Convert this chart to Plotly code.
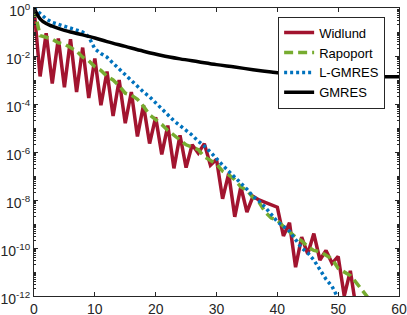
import plotly.graph_objects as go

# Widlund (log10 of residual), iterations 0..53
widlund_it = list(range(0, 54))
widlund_exp = [0, -2.85, -1.05, -3.15, -1.27, -3.3, -1.3, -3.5, -1.65, -3.75,
               -2.1, -4.05, -2.65, -4.5, -3.0, -4.8, -3.5, -5.35, -4.05, -5.65,
               -4.55, -6.1, -4.9, -6.68, -5.3, -6.65, -5.7, -6.05, -5.65, -6.55,
               -6.3, -7.95, -6.9, -8.7, -7.45, -8.5, -7.85, -8.0, -8.1, -8.2,
               -8.3, -9.5, -8.95, -10.8, -9.55, -10.25, -9.4, -10.5, -10.1, -10.64,
               -10.35, -12.0, -10.95, -12.6]

# Rapoport, iterations 0..55
rapoport_it = list(range(0, 56))
rapoport_exp = [0, -1.15, -1.22, -1.3, -1.45, -1.5, -1.65, -1.8, -2.05, -2.2,
                -2.45, -2.6, -2.85, -3.0, -3.25, -3.55, -3.63, -3.8, -4.1, -4.45,
                -4.65, -4.85, -5.1, -5.3, -5.5, -5.7, -5.8, -5.9, -6.2, -6.35,
                -6.5, -6.8, -6.95, -7.15, -7.45, -7.6, -7.9, -8.1, -8.5, -8.75,
                -8.85, -9.1, -9.35, -9.55, -9.7, -9.95, -10.1, -10.15, -10.3, -10.45,
                -10.85, -11.0, -11.15, -11.45, -11.75, -12.1]

# L-GMRES, iterations 0..50
lgmres_it = list(range(0, 51))
lgmres_exp = [0, -0.25, -0.45, -0.6, -0.68, -0.73, -0.82, -0.92, -1.0, -1.2,
              -1.7, -1.9, -2.05, -2.3, -2.55, -2.75, -3.05, -3.3, -3.5, -3.7,
              -3.95, -4.25, -4.5, -4.7, -4.9, -5.08, -5.3, -5.55, -5.75, -6.0,
              -6.3, -6.55, -6.8, -7.05, -7.25, -7.55, -7.85, -8.05, -8.3, -8.6,
              -8.9, -9.1, -9.3, -9.65, -10.0, -10.2, -10.5, -10.9, -11.3, -11.6,
              -12.1]

# GMRES
gmres_it = [0, 1, 2, 3, 4, 5, 6, 8, 10, 12, 15, 18, 21, 24, 27, 30, 33, 36,
            39, 42, 45, 48, 51, 54, 57, 60]
gmres_exp = [0, -0.45, -0.65, -0.76, -0.85, -0.93, -1.0, -1.12, -1.25, -1.4,
             -1.6, -1.8, -1.98, -2.12, -2.24, -2.36, -2.46, -2.57, -2.67, -2.76,
             -2.81, -2.84, -2.85, -2.86, -2.86, -2.86]

y_tick_exps = [0, -2, -4, -6, -8, -10, -12]
x_ticks = [0, 10, 20, 30, 40, 50, 60]


def vals(e):
    return [10 ** v for v in e]


fig = go.Figure()
fig.add_trace(go.Scatter(x=widlund_it, y=vals(widlund_exp), mode="lines", name="Widlund",
                         line=dict(color="#A2142F", width=3.5)))
fig.add_trace(go.Scatter(x=rapoport_it, y=vals(rapoport_exp), mode="lines", name="Rapoport",
                         line=dict(color="#77AC30", width=3.5, dash="9px,5px")))
fig.add_trace(go.Scatter(x=lgmres_it, y=vals(lgmres_exp), mode="lines", name="L-GMRES",
                         line=dict(color="#0072BD", width=3.5, dash="3px,3px")))
fig.add_trace(go.Scatter(x=gmres_it, y=vals(gmres_exp), mode="lines", name="GMRES",
                         line=dict(color="#000000", width=3.5, shape="spline")))

minor_vals = []
for k in range(-12, 0):
    for m in range(2, 10):
        minor_vals.append(m * 10 ** k)
    if k % 2 != 0:
        minor_vals.append(10 ** k)

axcol = "#262626"
fig.update_layout(
    width=407, height=315,
    margin=dict(l=34, r=8, t=8, b=19),
    paper_bgcolor="white", plot_bgcolor="white",
    font=dict(family="Liberation Sans, Arial, sans-serif", size=13, color=axcol),
    showlegend=True,
    legend=dict(x=0.962, y=0.97, xanchor="right", yanchor="top",
                bgcolor="white", bordercolor=axcol, borderwidth=1,
                font=dict(size=13, color="#000000"), tracegroupgap=0,
                itemwidth=30),
)
fig.update_xaxes(range=[0, 60], tickvals=x_ticks, ticks="inside", ticklen=4,
                 tickcolor=axcol, showline=True, linecolor=axcol, linewidth=1,
                 mirror="ticks", showgrid=False, zeroline=False, automargin=False,
                 tickfont=dict(size=14))
fig.update_yaxes(type="log", range=[-12, 0], tickvals=[10 ** e for e in y_tick_exps],
                 ticktext=["10<sup>%d</sup>" % e for e in y_tick_exps],
                 ticks="inside", ticklen=4, tickcolor=axcol, showline=True,
                 linecolor=axcol, linewidth=1, mirror="ticks", showgrid=False,
                 zeroline=False, automargin=False, tickfont=dict(size=14),
                 ticklabelshift=3,
                 minor=dict(tickvals=minor_vals, ticks="inside", ticklen=2,
                            tickcolor=axcol, showgrid=False))
fig.write_html("out.html", config={"displayModeBar": False},
               post_script="document.body.style.margin='0';document.body.style.overflow='hidden';")
